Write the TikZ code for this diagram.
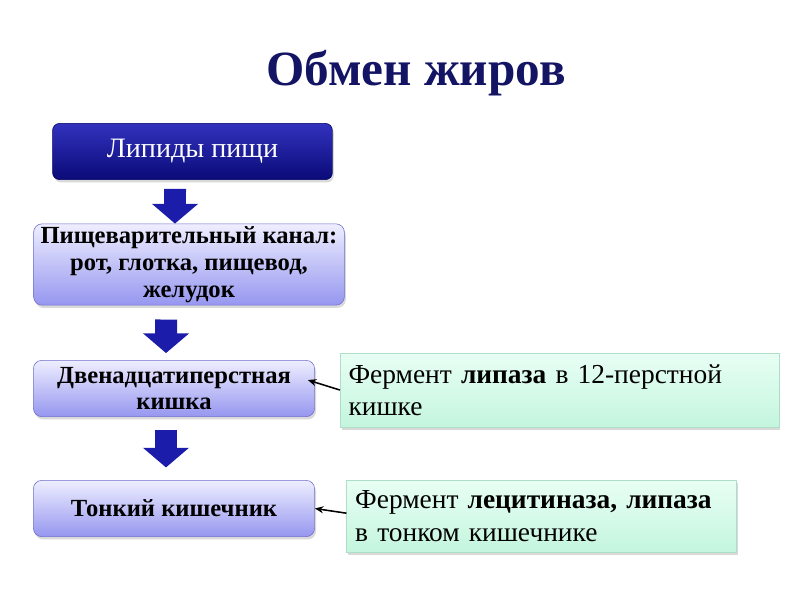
\documentclass[tikz,border=0pt]{standalone}
\usepackage{fontspec}
\setmainfont{Liberation Serif}
\usetikzlibrary{arrows.meta,shadows}
\definecolor{titlenavy}{RGB}{20,20,100}
\definecolor{flowblue}{RGB}{28,28,170}
\begin{document}
\begin{tikzpicture}[x=0.025cm,y=-0.025cm,
  darkbox/.style={rounded corners=5pt,draw=blue!40!black,top color={rgb,255:red,50;green,50;blue,190},
    bottom color={rgb,255:red,10;green,10;blue,120},text=white,minimum width=199pt,minimum height=40pt,
    font=\fontsize{20}{23}\selectfont,drop shadow={shadow xshift=1pt,shadow yshift=-2pt,opacity=0.3}},
  stage/.style={rounded corners=6pt,draw={rgb,255:red,110;green,110;blue,205},
    top color={rgb,255:red,238;green,238;blue,255},bottom color={rgb,255:red,150;green,150;blue,240},
    align=center,font=\fontsize{17.5}{19}\selectfont\bfseries,inner sep=2pt,
    drop shadow={shadow xshift=1pt,shadow yshift=-2pt,opacity=0.3}},
  enzyme/.style={draw={rgb,255:red,175;green,222;blue,200},top color={rgb,255:red,232;green,255;blue,244},
    bottom color={rgb,255:red,196;green,245;blue,222},align=left,inner sep=6pt,
    font=\fontsize{19.5}{23}\selectfont,drop shadow={shadow xshift=1pt,shadow yshift=-2pt,opacity=0.3}},
  flow/.style={line width=15.6pt,draw=flowblue,-{Triangle[width=32pt,length=14pt]}},
  pointer/.style={line width=1.1pt,-{Stealth[length=6pt,width=5pt]}}]
  \useasboundingbox (0,0) rectangle (800,600);
  \node[anchor=base,text=titlenavy,font=\fontsize{35}{40}\selectfont\bfseries] (title) at (416,85) {Обмен жиров};
  \node[darkbox] (lip) at (192.5,151.5) {Липиды пищи};
  \node[stage,minimum width=221pt,minimum height=54pt] (dig) at (189,264.5) {Пищеварительный канал:\\рот, глотка, пищевод,\\желудок};
  \node[stage,minimum width=200pt,minimum height=40pt] (duo) at (174,388.5) {Двенадцатиперстная\\кишка};
  \node[stage,minimum width=200pt,minimum height=40pt] (thin) at (174,508.5) {Тонкий кишечник};
  \node[enzyme,text width=300pt,minimum height=52.5pt] (enzA) at (559.5,390) {Фермент \textbf{липаза} в 12-перстной\\кишке};
  \node[enzyme,text width=265pt,minimum height=51pt] (enzB) at (541.5,516) {Фермент \textbf{лецитиназа, липаза}\\в тонком кишечнике};
  % block arrows
  \draw[flow,shorten <=6.4pt] ([xshift=-12.4pt]lip.south) -- ([xshift=-10pt]dig.north);
  \draw[flow,shorten <=10pt,shorten >=5pt] ([xshift=-16.3pt]dig.south) -- ([xshift=-5.7pt]duo.north);
  \draw[flow,shorten <=9pt,shorten >=9pt] ([xshift=-5.7pt]duo.south) -- ([xshift=-5.7pt]thin.north);
  % enzymes
  \draw[pointer] (enzA.west) -- ([xshift=-5pt,yshift=6pt]duo.east);
  \draw[pointer] ([yshift=2pt]enzB.west) -- (thin.east);
\end{tikzpicture}
\end{document}
